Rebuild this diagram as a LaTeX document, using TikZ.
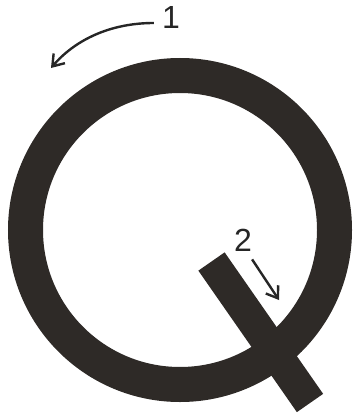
\documentclass[tikz,border=0pt]{standalone}
\usepackage{fontspec}
\setmainfont{Liberation Sans}
\usepackage{tikz}
\usetikzlibrary{arrows.meta,positioning}
\definecolor{ink}{RGB}{46,42,39}

\begin{document}
\begin{tikzpicture}[
    x=1pt, y=-1pt,
    font=\fontsize{32}{36}\selectfont,
    stroke/.style={draw=ink, line cap=butt},
    arrow/.style={->, >={Straight Barb[angle=70:13pt]}, line width=2.4pt, draw=black!85},
    label/.style={inner sep=0pt, text=black!85},
]
\useasboundingbox (0,0) rectangle (355,420);

% letter Q: ring and tail
\draw[stroke, line width=35pt] (180,230) circle (154.5pt);
\draw[stroke, line width=32pt] (211.5,261.5) -- (310,403);

\node[label] (one) at (171,17) {1};
\node[label] (two) at (243,240) {2};
\coordinate (onetip) at (51,68);
\coordinate (twotip) at (279,300);

\draw[arrow] (one.west) ++(-8,6) .. controls (110,23) and (75,40) .. (onetip);
\draw[arrow] (two.south east) ++(0,8) -- (twotip);

\end{tikzpicture}
\end{document}
